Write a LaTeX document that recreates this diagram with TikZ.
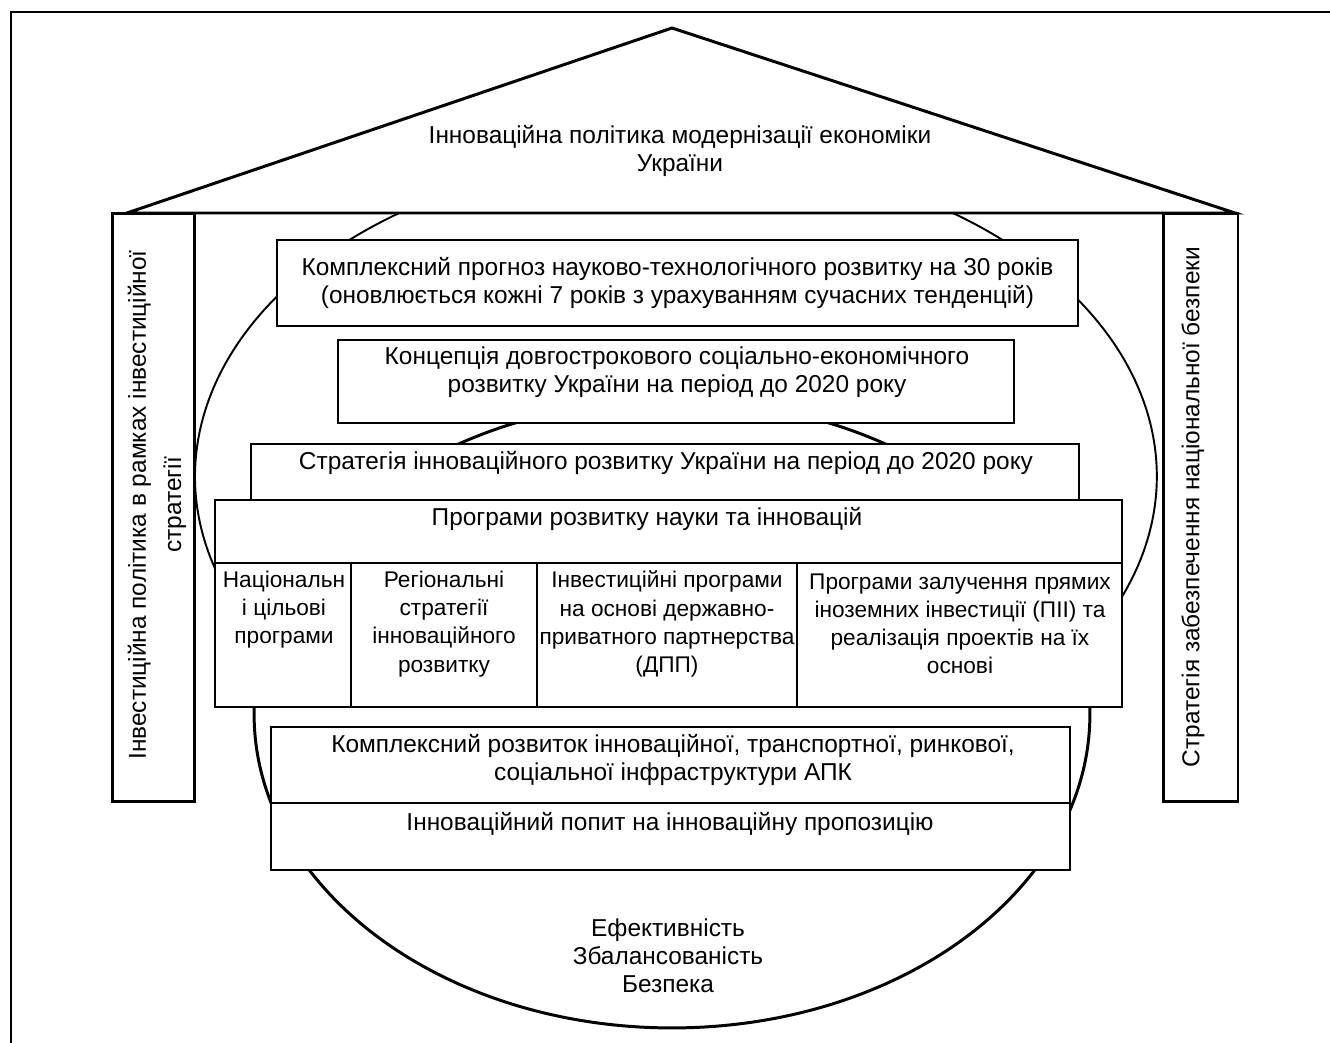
\documentclass[tikz,border=0pt]{standalone}
\usepackage{fontspec}
\setmainfont{Liberation Sans}
\usepackage{tikz}
\usetikzlibrary{positioning}

\begin{document}
\begin{tikzpicture}[
  x=0.02cm, y=-0.02cm,
  box/.style={rectangle, draw, line width=1.1pt, fill=white, inner sep=0pt, outer sep=0pt},
  pillar/.style={rectangle, draw, line width=1.7pt, fill=white, inner sep=0pt, outer sep=0pt, minimum height=11.78cm},
  cell/.style={box, minimum height=2.88cm, anchor=north west},
  txt/.style={align=center, inner sep=0pt, font=\fontsize{13.9}{16}\selectfont},
  celltxt/.style={txt, font=\fontsize{12.9}{16}\selectfont},
  thin/.style={line width=1.1pt},
  thick line/.style={line width=1.7pt}
]
  \useasboundingbox (0,0) rectangle (1330,1043);
  \draw[thin] (1345,12) -- (11,12) -- (11,1058);

  \draw[thin] (282,661) arc[start angle=215, end angle=-35, x radius=9.62cm, y radius=6.44cm];
  \draw[thick line] (672,714) ellipse [x radius=8.36cm, y radius=6.28cm];

  \draw[thick line, fill=white] (127,213) -- (672,28) -- (1235,213) -- cycle;
  \node[txt] (roof-t) at (680,151) {Інноваційна політика модернізації економіки\\України};

  \node[pillar, minimum width=1.66cm] (invest) at (153.5,507.5) {};
  \node[pillar, minimum width=1.5cm] (bezpeka) at (1200.5,507.5) {};
  \node[txt, rotate=90] (invest-t) at (157,505) {Інвестиційна політика в рамках інвестиційної\\[4pt]стратегії};
  \node[txt, rotate=90] (bezpeka-t) at (1193,507) {Стратегія забезпечення національної безпеки};

  \node[box, txt, minimum width=16.02cm, minimum height=1.72cm] (prognoz) at (677.5,283) {Комплексний прогноз науково-технологічного розвитку на 30 років\\(оновлюється кожні 7 років з урахуванням сучасних тенденцій)};
  \node[box, minimum width=13.52cm, minimum height=1.66cm] (konts) at (676,381.5) {};
  \node[txt] (konts-t) at (677,372) {Концепція довгострокового соціально-економічного\\розвитку України на період до 2020 року};
  \node[box, minimum width=16.56cm, minimum height=1.12cm] (strat) at (665,472) {};
  \node[txt] (strat-t) at (666,463) {Стратегія інноваційного розвитку України на період до 2020 року};

  \node[box, minimum width=18.14cm, minimum height=1.26cm] (prog) at (668.5,531.5) {};
  \node[txt] (prog-t) at (647,519) {Програми розвитку науки та інновацій};
  \node[cell, minimum width=2.72cm] (nats) at (prog.south west) {};
  \node[cell, minimum width=3.72cm, right=0pt of nats] (reg) {};
  \node[cell, minimum width=5.2cm, right=0pt of reg] (dpp) {};
  \node[cell, minimum width=6.5cm, right=0pt of dpp] (pii) {};
  \node[celltxt] (nats-t) at (284,610) {Національн\\і цільові\\програми};
  \node[celltxt] (reg-t) at (444,624) {Регіональні\\стратегії\\інноваційного\\розвитку};
  \node[celltxt] (dpp-t) at (667,624) {Інвестиційні програми\\на основі державно-\\приватного партнерства\\(ДПП)};
  \node[celltxt] (pii-t) at (960,624) {Програми залучення прямих\\іноземних інвестиції (ПІІ) та\\реалізація проектів на їх\\основі};

  \node[box, minimum width=15.98cm, minimum height=1.52cm] (infra) at (670.5,765) {};
  \node[txt] (infra-t) at (673,760) {Комплексний розвиток інноваційної, транспортної, ринкової,\\соціальної інфраструктури АПК};
  \node[box, minimum width=15.98cm, minimum height=1.34cm, below=0pt of infra] (popyt) {};
  \node[txt] (popyt-t) at (670,824) {Інноваційний попит на інноваційну пропозицію};

  \node[txt] (rezult) at (668,956) {Ефективність\\Збалансованість\\Безпека};
\end{tikzpicture}
\end{document}
